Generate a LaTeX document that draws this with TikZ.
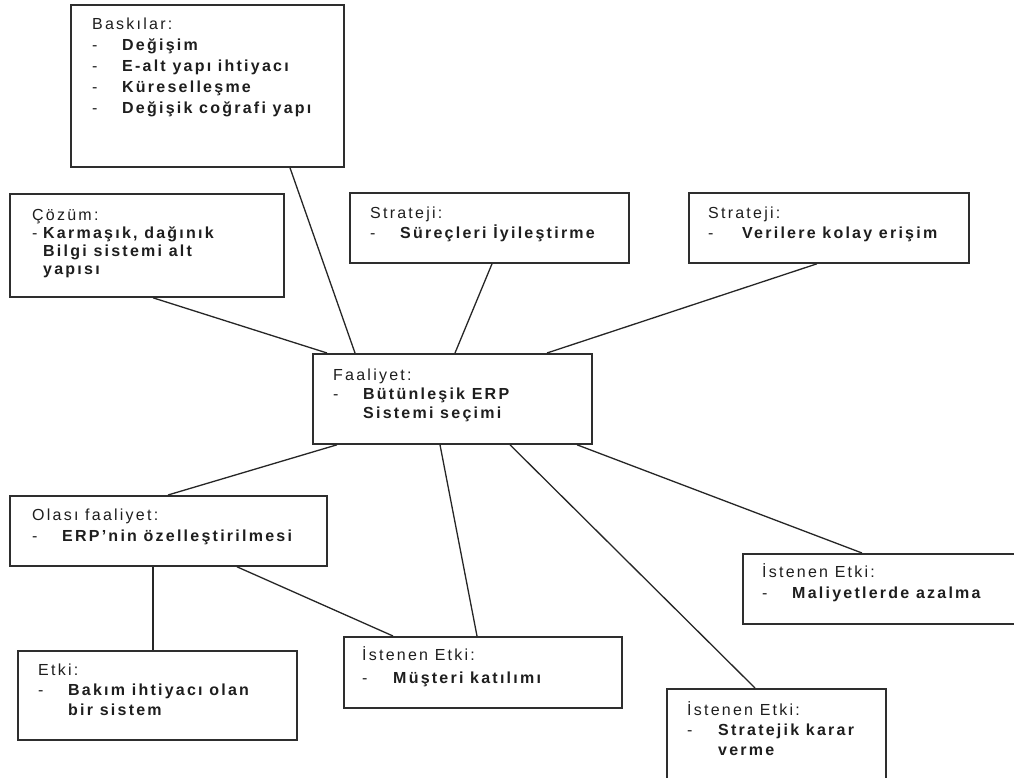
\documentclass[tikz,border=0pt]{standalone}
\usepackage{fontspec}
\setmainfont{Liberation Sans}[LetterSpace=14]
\definecolor{boxgray}{HTML}{2E2E2E}
\definecolor{titlegray}{HTML}{1E1E1E}
\newcommand{\dashitem}[2]{\makebox[#1][l]{-}\textbf{#2}}
\newcommand{\contitem}[2]{\hspace*{#1}\textbf{#2}}
\begin{document}
\begin{tikzpicture}[x=1pt,y=-1pt,
  box/.style={draw=boxgray, line width=1.8pt, rectangle, inner sep=0pt, anchor=north west},
  % multi-line texts are placed by the baseline of their last line
  txt/.style={anchor=base west, inner sep=0pt, align=left, text=titlegray},
  link/.style={draw=black!85, line width=1.3pt}]
\useasboundingbox (0,0) rectangle (1014,778);
\fill[white] (0,0) rectangle (1014,778);
\clip (0,0) rectangle (1014,778);

% boxes
\node[box, minimum width=273pt, minimum height=162pt] (bask)  at (70,4) {};
\node[box, minimum width=274pt, minimum height=103pt] (coz)   at (9,193) {};
\node[box, minimum width=279pt, minimum height=70pt]  (sur)   at (349,192) {};
\node[box, minimum width=280pt, minimum height=70pt]  (ver)   at (688,192) {};
\node[box, minimum width=279pt, minimum height=90pt]  (faal)  at (312,353) {};
\node[box, minimum width=317pt, minimum height=70pt]  (olasi) at (9,495) {};
\node[box, minimum width=279pt, minimum height=89pt]  (etki)  at (17,650) {};
\node[box, minimum width=278pt, minimum height=71pt]  (mus)   at (343,636) {};
\node[box, minimum width=288pt, minimum height=70pt]  (mal)   at (742,553) {};
\node[box, minimum width=219pt, minimum height=112pt] (str)   at (666,688) {};

% texts
\node[txt, font=\fontsize{16}{21}\selectfont] (t-bask) at (92,114)
  {Baskılar:\\ \dashitem{30pt}{Değişim}\\ \dashitem{30pt}{E-alt yapı ihtiyacı}\\
   \dashitem{30pt}{Küreselleşme}\\ \dashitem{30pt}{Değişik coğrafi yapı}};
\node[txt, font=\fontsize{16}{18}\selectfont] (t-coz) at (32,274)
  {Çözüm:\\ \dashitem{11pt}{Karmaşık, dağınık}\\ \contitem{11pt}{Bilgi sistemi alt}\\
   \contitem{11pt}{yapısı}};
\node[txt, font=\fontsize{16}{20}\selectfont] (t-sur) at (370,238)
  {Strateji:\\ \dashitem{30pt}{Süreçleri İyileştirme}};
\node[txt, font=\fontsize{16}{20}\selectfont] (t-ver) at (708,238)
  {Strateji:\\ \dashitem{34pt}{Verilere kolay erişim}};
\node[txt, font=\fontsize{16}{19}\selectfont] (t-faal) at (333,418)
  {Faaliyet:\\ \dashitem{30pt}{Bütünleşik ERP}\\ \contitem{30pt}{Sistemi seçimi}};
\node[txt, font=\fontsize{16}{21}\selectfont] (t-olasi) at (32,541)
  {Olası faaliyet:\\ \dashitem{30pt}{ERP’nin özelleştirilmesi}};
\node[txt, font=\fontsize{16}{20}\selectfont] (t-etki) at (38,715)
  {Etki:\\ \dashitem{30pt}{Bakım ihtiyacı olan}\\ \contitem{30pt}{bir sistem}};
\node[txt, font=\fontsize{16}{23}\selectfont] (t-mus) at (362,683)
  {İstenen Etki:\\ \dashitem{31pt}{Müşteri katılımı}};
\node[txt, font=\fontsize{16}{21}\selectfont] (t-mal) at (762,598)
  {İstenen Etki:\\ \dashitem{30pt}{Maliyetlerde azalma}};
\node[txt, font=\fontsize{16}{20}\selectfont] (t-str) at (687,755)
  {İstenen Etki:\\ \dashitem{31pt}{Stratejik karar}\\ \contitem{31pt}{verme}};

% connectors
\draw[link] ([xshift=220pt]bask.south west)  -- ([xshift=43pt]faal.north west);
\draw[link] ([xshift=144pt]coz.south west)   -- ([xshift=15pt]faal.north west);
\draw[link] ([xshift=143pt]sur.south west)   -- ([xshift=143pt]faal.north west);
\draw[link] ([xshift=129pt]ver.south west)   -- ([xshift=235pt]faal.north west);
\draw[link] ([xshift=25pt]faal.south west)   -- ([xshift=159pt]olasi.north west);
\draw[link] ([xshift=128pt]faal.south west)  -- ([xshift=134pt]mus.north west);
\draw[link] ([xshift=198pt]faal.south west)  -- ([xshift=89pt]str.north west);
\draw[link] ([xshift=265pt]faal.south west)  -- ([xshift=120pt]mal.north west);
\draw[link] ([xshift=144pt]olasi.south west) -- ([xshift=136pt]etki.north west);
\draw[link] ([xshift=228pt]olasi.south west) -- ([xshift=50pt]mus.north west);
\end{tikzpicture}
\end{document}
